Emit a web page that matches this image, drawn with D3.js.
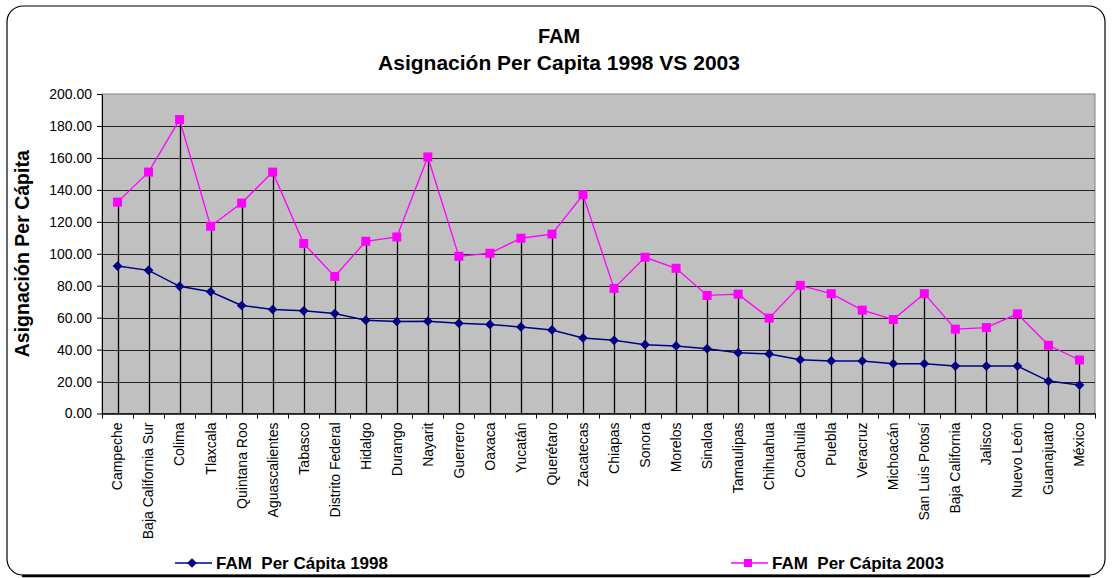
<!DOCTYPE html>
<html>
<head>
<meta charset="utf-8">
<script src="https://cdn.jsdelivr.net/npm/d3@7"></script>
<style>
  body { margin: 0; background: #fff; }
  text { font-family: Arial, "Liberation Sans", sans-serif; }
</style>
</head>
<body>
<div id="chart"></div>
<script>
// Data
let states = ['Campeche', 'Baja California Sur', 'Colima', 'Tlaxcala', 'Quintana Roo',
  'Aguascalientes', 'Tabasco', 'Distrito Federal', 'Hidalgo', 'Durango', 'Nayarit',
  'Guerrero', 'Oaxaca', 'Yucatán', 'Querétaro', 'Zacatecas', 'Chiapas', 'Sonora',
  'Morelos', 'Sinaloa', 'Tamaulipas', 'Chihuahua', 'Coahuila', 'Puebla', 'Veracruz',
  'Michoacán', 'San Luis Potosí', 'Baja California', 'Jalisco', 'Nuevo León',
  'Guanajuato', 'México'];

let perCapita1998 = [92.3, 89.6, 79.6, 76.2, 67.6, 65.1, 64.3, 62.6, 58.4, 57.6, 57.8,
  56.5, 55.7, 54.2, 52.3, 47.3, 45.8, 43.1, 42.3, 40.6, 38.1, 37.3, 33.7, 32.9, 32.9,
  31.2, 31.2, 29.7, 29.7, 29.7, 20.3, 17.8];

let perCapita2003 = [132.3, 151.1, 184.0, 117.2, 131.7, 151.1, 106.4, 85.8, 107.8, 110.5,
  160.6, 98.4, 100.3, 109.7, 112.3, 136.9, 78.3, 97.8, 90.9, 73.9, 74.7, 59.7, 80.2,
  75.0, 64.7, 58.8, 75.0, 52.8, 53.8, 62.4, 42.7, 33.5];

let yTicks = [0, 20, 40, 60, 80, 100, 120, 140, 160, 180, 200];

let seriesNames = ['FAM  Per Cápita 1998', 'FAM  Per Cápita 2003'];

let width = 1112, height = 578;
let margin = {top: 94, bottom: 165, left: 102, right: 17};

let svg = d3.select('#chart')
  .append('svg')
  .attr('width', width)
  .attr('height', height);

// Outer frame
svg.append('rect')
  .attr('x', 7).attr('y', 6)
  .attr('width', 1098).attr('height', 569)
  .attr('rx', 16).attr('ry', 16)
  .attr('fill', '#fff')
  .attr('stroke', '#000')
  .attr('stroke-width', 1.2);
svg.append('line')
  .attr('x1', 22).attr('x2', 1090)
  .attr('y1', 576).attr('y2', 576)
  .attr('stroke', '#000').attr('stroke-width', 2.5);

// Scales
let xScale = d3.scaleBand()
  .domain(states)
  .range([margin.left, width - margin.right]);

let yScale = d3.scaleLinear()
  .domain([0, 200])
  .range([height - margin.bottom + 0.5, margin.top]);

let plotBottom = yScale(0);

// Plot area
svg.append('rect')
  .attr('x', margin.left)
  .attr('y', margin.top)
  .attr('width', width - margin.right - margin.left)
  .attr('height', plotBottom - margin.top)
  .attr('fill', '#C0C0C0')
  .attr('stroke', '#808080')
  .attr('stroke-width', 1);

// Gridlines
svg.append('g')
  .selectAll('line')
  .data(yTicks.filter(d => d > 0 && d < 200))
  .enter()
  .append('line')
  .attr('x1', margin.left)
  .attr('x2', width - margin.right)
  .attr('y1', d => Math.round(yScale(d)) + 0.5)
  .attr('y2', d => Math.round(yScale(d)) + 0.5)
  .attr('stroke', '#222')
  .attr('stroke-width', 1);

// Drop lines
let x = d => xScale(d) + xScale.bandwidth() / 2;
svg.append('g')
  .selectAll('line')
  .data(states)
  .enter()
  .append('line')
  .attr('x1', d => Math.round(x(d)) + 0.5)
  .attr('x2', d => Math.round(x(d)) + 0.5)
  .attr('y1', (d, i) => yScale(Math.max(perCapita1998[i], perCapita2003[i])))
  .attr('y2', plotBottom)
  .attr('stroke', '#000')
  .attr('stroke-width', 1.3);

// Axes
let yAxis = svg.append('g')
  .attr('transform', `translate(${margin.left},0)`)
  .call(d3.axisLeft(yScale).tickValues(yTicks).tickFormat(d3.format('.2f')).tickSize(5).tickSizeOuter(0));
yAxis.select('.domain').attr('stroke', '#000');
yAxis.selectAll('line').attr('stroke', '#000');
yAxis.selectAll('text')
  .style('font-size', '14px')
  .style('fill', '#000')
  .attr('x', -10);

let xAxis = svg.append('g')
  .attr('transform', `translate(0,${plotBottom})`)
  .call(d3.axisBottom(xScale).tickSize(0).tickSizeOuter(0));
xAxis.select('.domain').attr('stroke', '#000').attr('stroke-width', 1.3);
xAxis.selectAll('text')
  .style('font-size', '14px')
  .style('fill', '#000')
  .style('text-anchor', 'end')
  .attr('x', -9)
  .attr('y', 0)
  .attr('dy', '0.35em')
  .attr('transform', 'rotate(-90)');

// Category boundary ticks
svg.append('g')
  .selectAll('line')
  .data(states.concat(['end']))
  .enter()
  .append('line')
  .attr('x1', (d, i) => Math.round(margin.left + i * xScale.step()) + 0.5)
  .attr('x2', (d, i) => Math.round(margin.left + i * xScale.step()) + 0.5)
  .attr('y1', plotBottom)
  .attr('y2', plotBottom + 5)
  .attr('stroke', '#000');

// Lines
let lineGen = d3.line()
  .x((d, i) => x(states[i]))
  .y(d => yScale(d));

svg.append('path')
  .datum(perCapita1998)
  .attr('d', lineGen)
  .attr('fill', 'none')
  .attr('stroke', '#000080')
  .attr('stroke-width', 1.5);

svg.append('path')
  .datum(perCapita2003)
  .attr('d', lineGen)
  .attr('fill', 'none')
  .attr('stroke', '#FF00FF')
  .attr('stroke-width', 1.3);

// Markers
let diamond = d3.symbol().type(d3.symbolDiamond2).size(60);
svg.append('g')
  .selectAll('path')
  .data(perCapita1998)
  .enter()
  .append('path')
  .attr('d', diamond)
  .attr('transform', (d, i) => `translate(${x(states[i])},${yScale(d)})`)
  .attr('fill', '#000080');

svg.append('g')
  .selectAll('rect')
  .data(perCapita2003)
  .enter()
  .append('rect')
  .attr('x', (d, i) => x(states[i]) - 4.5)
  .attr('y', d => yScale(d) - 4.5)
  .attr('width', 9)
  .attr('height', 9)
  .attr('fill', '#FF00FF');

// Titles
svg.append('text')
  .attr('x', 559)
  .attr('y', 43)
  .text('FAM')
  .style('text-anchor', 'middle')
  .style('font-size', '20px')
  .style('font-weight', 'bold');

svg.append('text')
  .attr('x', 559)
  .attr('y', 70)
  .text('Asignación Per Capita 1998 VS 2003')
  .style('text-anchor', 'middle')
  .style('font-size', '21px')
  .style('font-weight', 'bold');

svg.append('text')
  .attr('transform', `translate(29,${(margin.top + plotBottom) / 2}) rotate(-90)`)
  .text('Asignación Per Cápita')
  .style('text-anchor', 'middle')
  .style('font-size', '19.5px')
  .style('font-weight', 'bold');

// Legend
let legend = [
  {name: seriesNames[0], x: 175, color: '#000080', shape: 'diamond'},
  {name: seriesNames[1], x: 731, color: '#FF00FF', shape: 'square'}
];
let lg = svg.selectAll('.legend')
  .data(legend)
  .enter()
  .append('g')
  .attr('transform', d => `translate(${d.x},563)`);
lg.append('line')
  .attr('x1', 0).attr('x2', 37)
  .attr('stroke', d => d.color)
  .attr('stroke-width', 1.5);
lg.append('path')
  .attr('d', d => d.shape === 'diamond'
    ? diamond()
    : d3.symbol().type(d3.symbolSquare).size(64)())
  .attr('transform', 'translate(17,0)')
  .attr('fill', d => d.color);
lg.append('text')
  .attr('x', 41)
  .attr('dy', '0.36em')
  .text(d => d.name)
  .style('white-space', 'pre')
  .style('font-size', '17px')
  .style('font-weight', 'bold');
</script>
</body>
</html>
